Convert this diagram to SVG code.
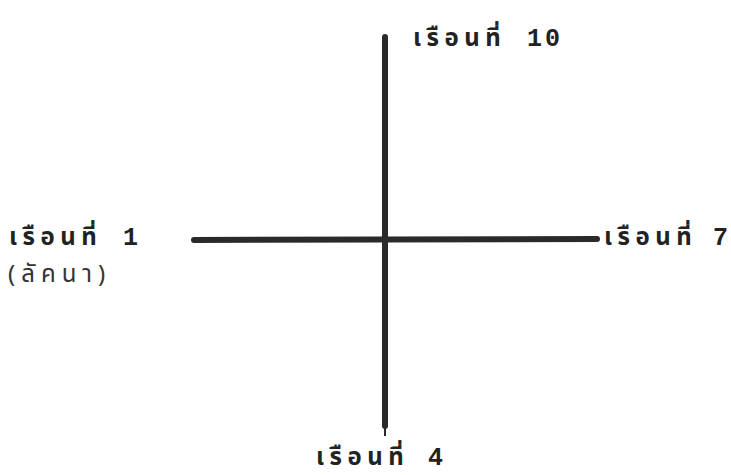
<svg xmlns="http://www.w3.org/2000/svg" width="731" height="475" viewBox="0 0 731 475">
<style>
.lbl{font-family:"Noto Sans Thai","DejaVu Sans","Noto Sans",sans-serif;font-weight:bold;font-size:24px;letter-spacing:5.5px;fill:#222}
.num{font-family:"Liberation Mono","DejaVu Sans Mono",monospace;font-weight:bold;font-size:25px;letter-spacing:3px;fill:#222}
.sub{font-family:"Noto Sans Thai","DejaVu Sans","Noto Sans",sans-serif;font-size:24px;letter-spacing:6px;fill:#333}
.ax{stroke:#2a2a2a;stroke-width:6;stroke-linecap:round;fill:none}
</style>
<rect width="731" height="475" fill="#fff"/>
<g id="connectors">
<line class="ax" x1="385" y1="37" x2="385" y2="426"/>
<line stroke="#2a2a2a" stroke-width="2" x1="385" y1="424" x2="385" y2="436"/>
<line class="ax" x1="194" y1="240" x2="597" y2="239"/>
</g>
<g id="house10"><text class="lbl" x="413" y="46">เรือนที่</text><text class="num" x="527" y="46">10</text></g>
<g id="house1"><text class="lbl" x="9" y="245">เรือนที่</text><text class="num" x="123" y="245">1</text><text class="sub" x="8" y="282">(ลัคนา)</text></g>
<g id="house7"><text class="lbl" x="604" y="245">เรือนที่</text><text class="num" x="713" y="245">7</text></g>
<g id="house4"><text class="lbl" x="316" y="465">เรือนที่</text><text class="num" x="428" y="465">4</text></g>
</svg>
